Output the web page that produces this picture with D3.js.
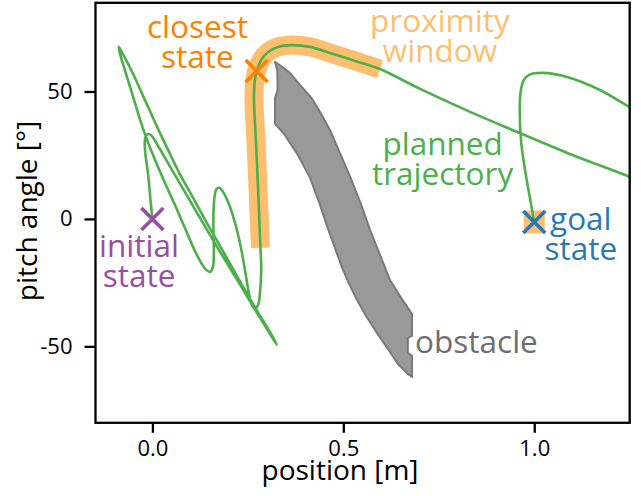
<!DOCTYPE html>
<html>
<head>
<meta charset="utf-8">
<script src="https://cdn.jsdelivr.net/npm/d3@7"></script>
<style>
  html, body { margin: 0; padding: 0; background: #fff; }
  text { font-family: "Open Sans", sans-serif; }
</style>
</head>
<body>
<div id="chart"></div>
<script>
// planned trajectory (position [m], pitch angle [deg])
const trajPos = [0.000,-0.005,-0.011,-0.018,-0.020,-0.016,-0.009,-0.001,
  0.015,0.038,0.062,0.088,0.117,0.151,0.190,0.230,0.269,0.303,0.326,
  0.311,0.279,0.245,0.211,0.177,0.141,0.107,0.072,0.041,0.010,-0.022,-0.048,-0.069,-0.082,-0.088,
  -0.086,-0.077,-0.064,-0.048,-0.032,-0.014,0.007,0.033,0.059,0.085,0.109,0.128,0.141,0.151,
  0.159,0.161,0.160,0.160,0.163,0.168,0.176,0.185,
  0.198,0.211,0.224,0.235,0.245,0.253,0.260,0.268,0.277,
  0.282,0.285,0.283,0.279,0.274,0.269,0.266,0.267,0.273,0.285,0.303,0.329,0.365,0.413,0.465,0.531,0.596,
  0.701,0.832,0.962,1.093,1.250,
  1.355,1.433,1.473,1.433,1.342,1.250,1.172,1.086,1.023,0.989,0.973,0.965,0.962,0.966,0.978,0.991,1.000];
const trajPitch = [0.0,7.5,17.3,25.1,30.2,32.9,33.3,32.5,
  28.6,22.7,16.5,9.8,2.4,-6.3,-16.1,-25.9,-35.7,-43.9,-49.4,
  -45.1,-37.3,-28.6,-19.6,-10.6,-1.2,8.2,17.6,27.1,36.9,47.5,56.1,62.4,65.9,67.5,
  65.5,60.8,54.5,46.7,38.8,31.0,23.1,14.1,5.5,-3.5,-11.8,-17.3,-20.0,-20.8,
  -18.4,-12.9,-5.1,2.7,9.0,11.8,12.2,10.6,
  6.7,1.2,-5.9,-13.7,-22.4,-29.4,-33.7,-35.3,-33.7,
  -28.6,-20.0,-11.4,3.5,21.2,36.9,46.7,52.5,58.0,62.4,65.5,67.5,68.2,67.5,65.1,62.0,58.8,
  51.0,42.0,33.7,25.5,16.5,
  9.8,7.5,15.3,27.1,36.9,43.9,50.6,55.7,57.3,56.7,54.5,50.6,42.7,29.8,17.3,6.3,-1.2];

// proximity window = part of the trajectory (index range)
const windowStart = 67;
const windowEnd = 81;

// obstacle outline
const obstaclePos = [0.321,0.337,0.360,0.387,0.415,0.439,0.465,0.491,0.518,0.547,0.570,0.594,0.622,0.648,0.680,
  0.680,0.669,0.669,0.680,0.680,
  0.669,0.643,0.615,0.586,0.559,0.536,0.515,0.497,0.478,0.459,0.439,0.413,0.381,0.345,0.321,0.321,0.328,0.327];
const obstaclePitch = [61.6,60.0,57.3,52.5,47.8,42.0,34.9,25.9,16.5,5.5,-4.3,-13.3,-23.9,-30.2,-37.3,
  -45.9,-46.7,-52.5,-53.7,-62.0,
  -60.8,-56.9,-50.6,-44.3,-38.0,-31.8,-25.5,-19.2,-11.4,-3.5,5.5,16.1,25.1,33.3,37.3,47.5,50.6,58.4];

const initialState = [0.0, 0.0];
const closestState = [0.273, 58.0];
const goalState = [1.0, -1.2];

const xTicks = [0.0, 0.5, 1.0];
const yTicks = [-50, 0, 50];

const width = 641, height = 496;
const margin = { left: 95.5, right: 629.7, top: 2.8, bottom: 422.8 };

const x = d3.scaleLinear().domain([-0.149, 1.25]).range([margin.left, margin.right]);
const y = d3.scaleLinear().domain([-80, 84.8]).range([margin.bottom, margin.top]);

const green = '#4daf4a', orange = '#ff7f00', lightOrange = '#fdbf6f',
      purple = '#984ea3', blue = '#2a78b5', grey = '#999999';

const svg = d3.select('#chart').append('svg')
  .attr('width', width)
  .attr('height', height);

svg.append('defs').append('clipPath')
  .attr('id', 'plot-clip')
  .append('rect')
  .attr('x', margin.left).attr('y', margin.top)
  .attr('width', margin.right - margin.left).attr('height', margin.bottom - margin.top);

const plot = svg.append('g').attr('clip-path', 'url(#plot-clip)');

// obstacle
const obstacle = obstaclePos.map((p, i) => [p, obstaclePitch[i]]);
plot.append('path')
  .datum(obstacle)
  .attr('fill', grey)
  .attr('stroke', '#7a7a7a')
  .attr('stroke-width', 2)
  .attr('stroke-linejoin', 'round')
  .attr('d', d3.line().x(d => x(d[0])).y(d => y(d[1])).curve(d3.curveLinearClosed));

const traj = trajPos.map((p, i) => [p, trajPitch[i]]);
const line = d3.line()
  .x(d => x(d[0]))
  .y(d => y(d[1]))
  .curve(d3.curveCatmullRom.alpha(0.5));

// proximity window
plot.append('path')
  .datum(traj.slice(windowStart, windowEnd + 1))
  .attr('fill', 'none')
  .attr('stroke', lightOrange)
  .attr('stroke-width', 19)
  .attr('stroke-linecap', 'butt')
  .attr('d', line);

plot.append('rect')
  .attr('x', x(goalState[0]) - 10.5)
  .attr('y', y(goalState[1]) - 11.5)
  .attr('width', 21)
  .attr('height', 23)
  .attr('fill', lightOrange);

// trajectory
plot.append('path')
  .datum(traj)
  .attr('fill', 'none')
  .attr('stroke', green)
  .attr('stroke-width', 2.6)
  .attr('stroke-linejoin', 'round')
  .attr('d', line);

// state markers
const markers = [
  { s: initialState, color: purple },
  { s: closestState, color: orange },
  { s: goalState, color: blue }
];
const r = 11;
svg.selectAll('path.marker')
  .data(markers)
  .join('path')
  .attr('class', 'marker')
  .attr('fill', 'none')
  .attr('stroke', d => d.color)
  .attr('stroke-width', 3.6)
  .attr('d', d => {
    const cx = x(d.s[0]), cy = y(d.s[1]);
    return `M${cx - r},${cy - r}L${cx + r},${cy + r}M${cx - r},${cy + r}L${cx + r},${cy - r}`;
  });

// annotations
const labels = [
  { lines: ['closest', 'state'], pos: 0.118, pitch: 70.9, color: orange, anchor: 'middle' },
  { lines: ['proximity', 'window'], pos: 0.753, pitch: 73.5, color: lightOrange, anchor: 'middle' },
  { lines: ['planned', 'trajectory'], pos: 0.760, pitch: 25.1, color: green, anchor: 'middle' },
  { lines: ['goal', 'state'], pos: 1.122, pitch: -4.3, color: blue, anchor: 'middle' },
  { lines: ['initial', 'state'], pos: -0.035, pitch: -14.9, color: purple, anchor: 'middle' },
  { lines: ['obstacle'], pos: 0.688, pitch: -52.5, color: '#6e6e6e', anchor: 'start' }
];
labels.forEach(l => {
  const t = svg.append('text')
    .attr('x', x(l.pos))
    .attr('y', y(l.pitch))
    .attr('fill', l.color)
    .attr('text-anchor', l.anchor)
    .style('font-size', '31.5px');
  l.lines.forEach((s, i) => {
    t.append('tspan')
      .attr('x', x(l.pos))
      .attr('dy', i === 0 ? 0 : 30)
      .text(s);
  });
});

// axes
const xAxis = svg.append('g')
  .attr('transform', `translate(0,${margin.bottom})`)
  .call(d3.axisBottom(x).tickValues(xTicks).tickFormat(d3.format('.1f')).tickSize(10).tickPadding(8).tickSizeOuter(0));
const yAxis = svg.append('g')
  .attr('transform', `translate(${margin.left},0)`)
  .call(d3.axisLeft(y).tickValues(yTicks).tickFormat(d => String(d)).tickSize(11).tickPadding(12).tickSizeOuter(0));

[xAxis, yAxis].forEach(a => {
  a.select('.domain').remove();
  a.selectAll('line').attr('stroke', '#000').attr('stroke-width', 2.3);
  a.selectAll('text').attr('fill', '#000').style('font-size', '22px').style('font-family', '"Open Sans", sans-serif');
});

svg.append('rect')
  .attr('x', margin.left).attr('y', margin.top)
  .attr('width', margin.right - margin.left).attr('height', margin.bottom - margin.top)
  .attr('fill', 'none')
  .attr('stroke', '#000')
  .attr('stroke-width', 2.3);

svg.append('text')
  .attr('x', 340)
  .attr('y', 480)
  .attr('text-anchor', 'middle')
  .style('font-size', '28px')
  .text('position [m]');

svg.append('text')
  .attr('transform', 'translate(36.7,211) rotate(-90)')
  .attr('text-anchor', 'middle')
  .style('font-size', '28px')
  .text('pitch angle [°]');
</script>
</body>
</html>
